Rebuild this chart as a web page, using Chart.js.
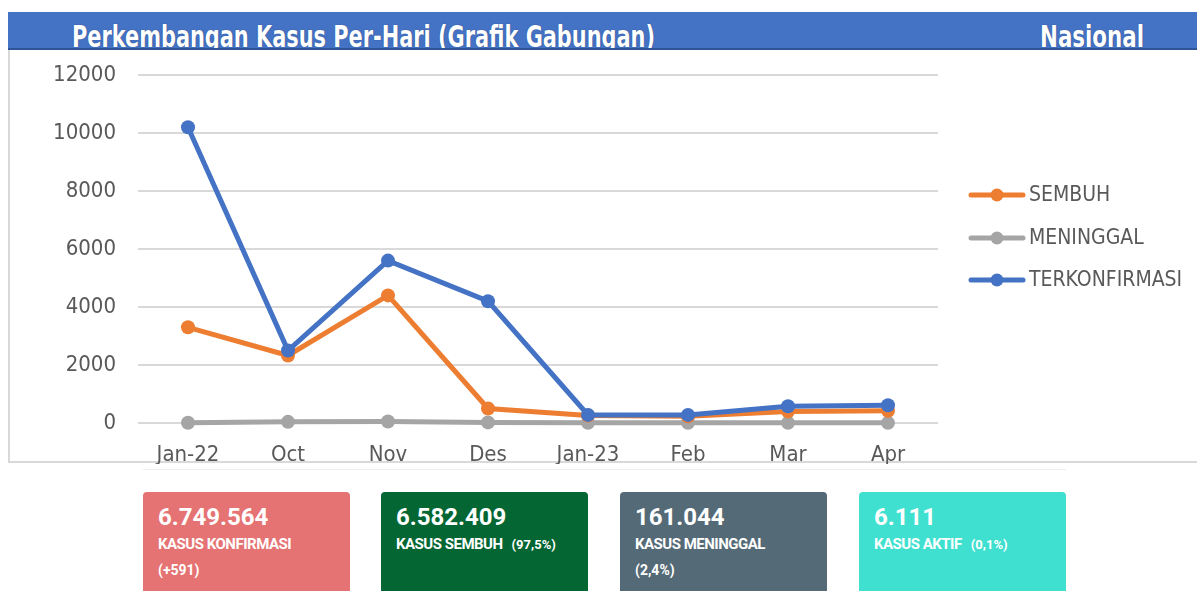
<!DOCTYPE html>
<html>
<head>
<meta charset="utf-8">
<script src="https://cdn.jsdelivr.net/npm/chart.js@4.4.1/dist/chart.umd.min.js"></script>
<style>
  html, body { margin: 0; padding: 0; background: #fff; }
  body { width: 1197px; height: 591px; position: relative; overflow: hidden; }
  #hdr { position: absolute; left: 8px; top: 12px; width: 1189px; height: 36px; background: #4472c4; border-bottom: 2px solid #2f5597; overflow: hidden; }
  .ht { position: absolute; top: 9px; color: #fff; font-family: "Liberation Sans Narrow", "DejaVu Sans Condensed", sans-serif; font-weight: bold; font-size: 31px; line-height: 31px; white-space: nowrap; transform-origin: 0 0; text-shadow: 0 0 1px #1f3a70; }
  #box { position: absolute; left: 8px; top: 50px; width: 1189px; height: 413px; border-left: 2px solid #d9d9d9; border-bottom: 2px solid #d9d9d9; box-sizing: border-box; }
  #faint { position: absolute; left: 143px; top: 469px; width: 923px; height: 1px; background: #eeeeee; }
  #wrap { position: absolute; left: 8px; top: 50px; width: 1189px; height: 414px; }
  .card { position: absolute; top: 492px; width: 207px; height: 110px; border-radius: 4px; color: #fff; font-family: Roboto, "Noto Sans", sans-serif; }
  .num { position: absolute; left: 15px; top: 13px; font-size: 24px; line-height: 24px; font-weight: bold; }
  .lab { position: absolute; left: 15px; top: 45px; font-size: 15px; line-height: 15px; font-weight: bold; letter-spacing: -0.5px; white-space: nowrap; }
  .sm { font-size: 13px; letter-spacing: 0; margin-left: 9px; }
  .sub { position: absolute; left: 15px; top: 71px; font-size: 14px; line-height: 14px; font-weight: bold; }
</style>
</head>
<body>
<div id="hdr">
  <span class="ht" id="t1" style="left:64px">Perkembangan Kasus Per-Hari (Grafik Gabungan)</span>
  <span class="ht" id="t2" style="left:1032px">Nasional</span>
</div>
<div id="box"></div>
<div id="faint"></div>
<div id="wrap"><canvas id="c" width="1189" height="414"></canvas></div>

<div class="card" style="left:143px;background:#e57373"><div class="num">6.749.564</div><div class="lab">KASUS KONFIRMASI</div><div class="sub">(+591)</div></div>
<div class="card" style="left:381px;background:#036633"><div class="num">6.582.409</div><div class="lab">KASUS SEMBUH<span class="sm">(97,5%)</span></div></div>
<div class="card" style="left:620px;background:#546a77"><div class="num">161.044</div><div class="lab">KASUS MENINGGAL</div><div class="sub">(2,4%)</div></div>
<div class="card" style="left:859px;background:#40e0d0"><div class="num">6.111</div><div class="lab">KASUS AKTIF<span class="sm">(0,1%)</span></div></div>

<script>
// ---- data ----
const categories = ["Jan-22", "Oct", "Nov", "Des", "Jan-23", "Feb", "Mar", "Apr"];
const seriesNames = ["SEMBUH", "MENINGGAL", "TERKONFIRMASI"];
const sembuh = [3300, 2330, 4400, 500, 260, 230, 400, 420];
const meninggal = [10, 40, 50, 20, 5, 5, 5, 5];
const terkonfirmasi = [10200, 2500, 5600, 4200, 280, 280, 580, 610];
const yTicks = [0, 2000, 4000, 6000, 8000, 10000, 12000];

// fit header text widths
function fit(id, w) {
  const el = document.getElementById(id);
  const cw = el.getBoundingClientRect().width;
  el.style.transform = "scaleX(" + (w / cw) + ")";
}
fit("t1", 583);
fit("t2", 104);

const colors = ["#ed7d31", "#a5a5a5", "#4472c4"];
const values = [sembuh, meninggal, terkonfirmasi];
const drawOrder = [1, 2, 0];
const FONT = "'Liberation Sans Narrow', 'DejaVu Sans Condensed', sans-serif";

const legendPlugin = {
  id: "customLegend",
  afterDraw(chart) {
    const ctx = chart.ctx;
    const ys = [145, 188, 230];
    ctx.save();
    chart.data.datasets.forEach((ds, i) => {
      const y = ys[i];
      ctx.strokeStyle = ds.borderColor;
      ctx.lineWidth = 5;
      ctx.lineCap = "round";
      ctx.beginPath();
      ctx.moveTo(963, y);
      ctx.lineTo(1015, y);
      ctx.stroke();
      ctx.fillStyle = ds.borderColor;
      ctx.beginPath();
      ctx.arc(989, y, 6.5, 0, Math.PI * 2);
      ctx.fill();
      ctx.fillStyle = "#595959";
      ctx.font = "21px " + FONT;
      ctx.textBaseline = "middle";
      ctx.textAlign = "left";
      ctx.fillText(ds.label, 1021, y + 1);
    });
    ctx.restore();
  }
};

new Chart(document.getElementById("c"), {
  type: "line",
  data: {
    labels: categories,
    datasets: seriesNames.map((n, i) => ({
      label: n,
      data: values[i],
      borderColor: colors[i],
      backgroundColor: colors[i],
      pointBackgroundColor: colors[i],
      pointBorderWidth: 0,
      pointRadius: 7,
      borderWidth: 5,
      tension: 0,
      order: drawOrder[i],
      clip: false
    }))
  },
  options: {
    responsive: false,
    animation: false,
    devicePixelRatio: 1,
    layout: { padding: { left: 0, right: 259, top: 25, bottom: 0 } },
    plugins: { legend: { display: false }, tooltip: { enabled: false } },
    scales: {
      x: {
        offset: true,
        grid: { display: false, drawTicks: false },
        border: { display: false },
        ticks: { color: "#595959", font: { family: FONT, size: 22 }, padding: 19, maxRotation: 0 },
        afterFit(s) { s.height = 41; s.paddingLeft = 0; s.paddingRight = 0; }
      },
      y: {
        min: 0, max: 12000,
        afterBuildTicks(s) { s.ticks = yTicks.map(v => ({ value: v })); },
        grid: { color: "#d9d9d9", lineWidth: 2, drawTicks: false },
        border: { display: false },
        ticks: { color: "#595959", font: { family: FONT, size: 22 }, padding: 22, callback: v => String(v) },
        afterFit(s) { s.width = 130; s.paddingTop = 0; s.paddingBottom = 0; }
      }
    }
  },
  plugins: [legendPlugin]
});
</script>
</body>
</html>
